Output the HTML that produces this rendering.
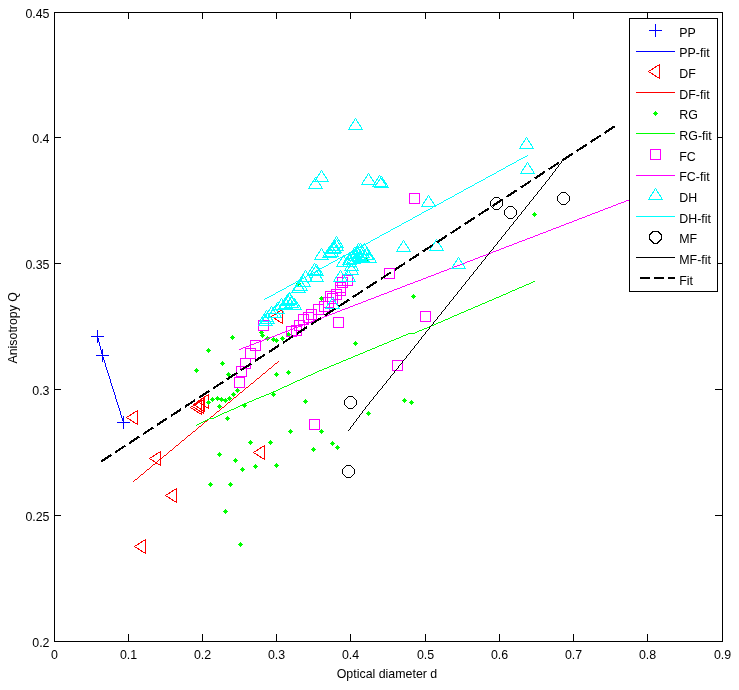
<!DOCTYPE html><html><head><meta charset="utf-8"><style>html,body{margin:0;padding:0;background:#fff}svg{display:block;will-change:transform}text{font-family:"Liberation Sans",sans-serif;font-size:12.4px;fill:#000}</style></head><body>
<svg width="739" height="690" viewBox="0 0 739 690" shape-rendering="crispEdges">
<rect width="739" height="690" fill="#fff"/>
<path d="M54.5 12.5H722.5V641.5H54.5Z" stroke="#000" fill="none"/>
<path d="M54.5 641.5V633.5M54.5 12.5V18.5M128.5 641.5V633.5M128.5 12.5V18.5M202.5 641.5V633.5M202.5 12.5V18.5M276.5 641.5V633.5M276.5 12.5V18.5M350.5 641.5V633.5M350.5 12.5V18.5M425.5 641.5V633.5M425.5 12.5V18.5M499.5 641.5V633.5M499.5 12.5V18.5M573.5 641.5V633.5M573.5 12.5V18.5M647.5 641.5V633.5M647.5 12.5V18.5M722.5 641.5V633.5M722.5 12.5V18.5M54.5 641.5H60.5M722.5 641.5H714.5M54.5 515.5H60.5M722.5 515.5H714.5M54.5 389.5H60.5M722.5 389.5H714.5M54.5 263.5H60.5M722.5 263.5H714.5M54.5 137.5H60.5M722.5 137.5H714.5M54.5 12.5H60.5M722.5 12.5H714.5" stroke="#000" fill="none"/>
<text x="54.5" y="659" text-anchor="middle">0</text>
<text x="128.5" y="659" text-anchor="middle">0.1</text>
<text x="202.5" y="659" text-anchor="middle">0.2</text>
<text x="276.5" y="659" text-anchor="middle">0.3</text>
<text x="350.5" y="659" text-anchor="middle">0.4</text>
<text x="425.5" y="659" text-anchor="middle">0.5</text>
<text x="499.5" y="659" text-anchor="middle">0.6</text>
<text x="573.5" y="659" text-anchor="middle">0.7</text>
<text x="647.5" y="659" text-anchor="middle">0.8</text>
<text x="722.5" y="659" text-anchor="middle">0.9</text>
<text x="49.5" y="646.5" text-anchor="end">0.2</text>
<text x="49.5" y="520.5" text-anchor="end">0.25</text>
<text x="49.5" y="394.5" text-anchor="end">0.3</text>
<text x="49.5" y="268.5" text-anchor="end">0.35</text>
<text x="49.5" y="142.5" text-anchor="end">0.4</text>
<text x="49.5" y="17.5" text-anchor="end">0.45</text>
<text x="387" y="678" text-anchor="middle">Optical diameter d</text>
<text transform="translate(17.4 327.8) rotate(-90)" text-anchor="middle">Anisotropy Q</text>
<g fill="none" stroke-width="1">
<path d="M90.90 336.50H103.90M97.40 330.00V343.00" stroke="#0000ff"/>
<path d="M96.00 355.30H109.00M102.50 348.80V361.80" stroke="#0000ff"/>
<path d="M116.80 422.60H129.80M123.30 416.10V429.10" stroke="#0000ff"/>
<path d="M97 336h1v1h-1zM97 337h1v1h-1zM98 338h1v1h-1zM98 339h1v1h-1zM98 340h1v1h-1zM98 341h1v1h-1zM99 342h1v1h-1zM99 343h1v1h-1zM99 344h1v1h-1zM99 345h1v1h-1zM100 346h1v1h-1zM100 347h1v1h-1zM100 348h1v1h-1zM100 349h1v1h-1zM101 350h1v1h-1zM101 351h1v1h-1zM101 352h1v1h-1zM101 353h1v1h-1zM102 354h1v1h-1zM102 355h1v1h-1zM102 356h1v1h-1zM103 357h1v1h-1zM103 358h1v1h-1zM103 359h1v1h-1zM104 360h1v1h-1zM104 361h1v1h-1zM104 362h1v1h-1zM105 363h1v1h-1zM105 364h1v1h-1zM105 365h1v1h-1zM105 366h1v1h-1zM106 367h1v1h-1zM106 368h1v1h-1zM106 369h1v1h-1zM107 370h1v1h-1zM107 371h1v1h-1zM107 372h1v1h-1zM108 373h1v1h-1zM108 374h1v1h-1zM108 375h1v1h-1zM109 376h1v1h-1zM109 377h1v1h-1zM109 378h1v1h-1zM110 379h1v1h-1zM110 380h1v1h-1zM110 381h1v1h-1zM110 382h1v1h-1zM111 383h1v1h-1zM111 384h1v1h-1zM111 385h1v1h-1zM112 386h1v1h-1zM112 387h1v1h-1zM112 388h1v1h-1zM113 389h1v1h-1zM113 390h1v1h-1zM113 391h1v1h-1zM114 392h1v1h-1zM114 393h1v1h-1zM114 394h1v1h-1zM115 395h1v1h-1zM115 396h1v1h-1zM115 397h1v1h-1zM115 398h1v1h-1zM116 399h1v1h-1zM116 400h1v1h-1zM116 401h1v1h-1zM117 402h1v1h-1zM117 403h1v1h-1zM117 404h1v1h-1zM118 405h1v1h-1zM118 406h1v1h-1zM118 407h1v1h-1zM119 408h1v1h-1zM119 409h1v1h-1zM119 410h1v1h-1zM120 411h1v1h-1zM120 412h1v1h-1zM120 413h1v1h-1zM120 414h1v1h-1zM121 415h1v1h-1zM121 416h1v1h-1zM121 417h1v1h-1zM122 418h1v1h-1zM122 419h1v1h-1zM122 420h1v1h-1zM123 421h1v1h-1zM123 422h1v1h-1z" fill="#0000ff" stroke="none"/>
<path d="M126.50 417.50L137.50 410.50V424.50Z" stroke="#ff0000"/>
<path d="M149.50 458.50L160.50 451.50V465.50Z" stroke="#ff0000"/>
<path d="M165.50 495.50L176.50 488.50V502.50Z" stroke="#ff0000"/>
<path d="M134.50 546.50L145.50 539.50V553.50Z" stroke="#ff0000"/>
<path d="M253.50 452.50L264.50 445.50V459.50Z" stroke="#ff0000"/>
<path d="M271.50 316.50L282.50 309.50V323.50Z" stroke="#ff0000"/>
<path d="M197.50 401.50L208.50 394.50V408.50Z" stroke="#ff0000"/>
<path d="M193.50 404.50L204.50 397.50V411.50Z" stroke="#ff0000"/>
<path d="M192.50 406.50L203.50 399.50V413.50Z" stroke="#ff0000"/>
<path d="M190.50 407.50L201.50 400.50V414.50Z" stroke="#ff0000"/>
<path d="M278 361h1v1h-1zM277 362h1v1h-1zM275 363h2v1h-2zM274 364h1v1h-1zM273 365h1v1h-1zM272 366h1v1h-1zM271 367h1v1h-1zM269 368h2v1h-2zM268 369h1v1h-1zM267 370h1v1h-1zM266 371h1v1h-1zM265 372h1v1h-1zM263 373h2v1h-2zM262 374h1v1h-1zM261 375h1v1h-1zM260 376h1v1h-1zM259 377h1v1h-1zM257 378h2v1h-2zM256 379h1v1h-1zM255 380h1v1h-1zM254 381h1v1h-1zM253 382h1v1h-1zM251 383h2v1h-2zM250 384h1v1h-1zM249 385h1v1h-1zM248 386h1v1h-1zM246 387h2v1h-2zM245 388h1v1h-1zM244 389h1v1h-1zM243 390h1v1h-1zM242 391h1v1h-1zM240 392h2v1h-2zM239 393h1v1h-1zM238 394h1v1h-1zM237 395h1v1h-1zM236 396h1v1h-1zM234 397h2v1h-2zM233 398h1v1h-1zM232 399h1v1h-1zM231 400h1v1h-1zM230 401h1v1h-1zM228 402h2v1h-2zM227 403h1v1h-1zM226 404h1v1h-1zM225 405h1v1h-1zM224 406h1v1h-1zM222 407h2v1h-2zM221 408h1v1h-1zM220 409h1v1h-1zM219 410h1v1h-1zM217 411h2v1h-2zM216 412h1v1h-1zM215 413h1v1h-1zM214 414h1v1h-1zM213 415h1v1h-1zM211 416h2v1h-2zM210 417h1v1h-1zM209 418h1v1h-1zM208 419h1v1h-1zM207 420h1v1h-1zM205 421h2v1h-2zM204 422h1v1h-1zM203 423h1v1h-1zM202 424h1v1h-1zM201 425h1v1h-1zM199 426h2v1h-2zM198 427h1v1h-1zM197 428h1v1h-1zM196 429h1v1h-1zM195 430h1v1h-1zM193 431h2v1h-2zM192 432h1v1h-1zM191 433h1v1h-1zM190 434h1v1h-1zM188 435h2v1h-2zM187 436h1v1h-1zM186 437h1v1h-1zM185 438h1v1h-1zM184 439h1v1h-1zM182 440h2v1h-2zM181 441h1v1h-1zM180 442h1v1h-1zM179 443h1v1h-1zM178 444h1v1h-1zM176 445h2v1h-2zM175 446h1v1h-1zM174 447h1v1h-1zM173 448h1v1h-1zM172 449h1v1h-1zM170 450h2v1h-2zM169 451h1v1h-1zM168 452h1v1h-1zM167 453h1v1h-1zM166 454h1v1h-1zM164 455h2v1h-2zM163 456h1v1h-1zM162 457h1v1h-1zM161 458h1v1h-1zM159 459h2v1h-2zM158 460h1v1h-1zM157 461h1v1h-1zM156 462h1v1h-1zM155 463h1v1h-1zM153 464h2v1h-2zM152 465h1v1h-1zM151 466h1v1h-1zM150 467h1v1h-1zM149 468h1v1h-1zM147 469h2v1h-2zM146 470h1v1h-1zM145 471h1v1h-1zM144 472h1v1h-1zM143 473h1v1h-1zM141 474h2v1h-2zM140 475h1v1h-1zM139 476h1v1h-1zM138 477h1v1h-1zM137 478h1v1h-1zM135 479h2v1h-2zM134 480h1v1h-1zM133 481h1v1h-1z" fill="#ff0000" stroke="none"/>
<path d="M208.50 399.90L211.10 402.50L208.50 405.10L205.90 402.50Z" fill="#00ff00" stroke="none"/>
<path d="M212.50 396.90L215.10 399.50L212.50 402.10L209.90 399.50Z" fill="#00ff00" stroke="none"/>
<path d="M217.50 395.90L220.10 398.50L217.50 401.10L214.90 398.50Z" fill="#00ff00" stroke="none"/>
<path d="M221.50 396.90L224.10 399.50L221.50 402.10L218.90 399.50Z" fill="#00ff00" stroke="none"/>
<path d="M225.50 397.90L228.10 400.50L225.50 403.10L222.90 400.50Z" fill="#00ff00" stroke="none"/>
<path d="M229.50 395.90L232.10 398.50L229.50 401.10L226.90 398.50Z" fill="#00ff00" stroke="none"/>
<path d="M233.50 391.90L236.10 394.50L233.50 397.10L230.90 394.50Z" fill="#00ff00" stroke="none"/>
<path d="M237.50 387.90L240.10 390.50L237.50 393.10L234.90 390.50Z" fill="#00ff00" stroke="none"/>
<path d="M219.50 403.90L222.10 406.50L219.50 409.10L216.90 406.50Z" fill="#00ff00" stroke="none"/>
<path d="M227.50 415.90L230.10 418.50L227.50 421.10L224.90 418.50Z" fill="#00ff00" stroke="none"/>
<path d="M232.50 334.90L235.10 337.50L232.50 340.10L229.90 337.50Z" fill="#00ff00" stroke="none"/>
<path d="M208.50 347.90L211.10 350.50L208.50 353.10L205.90 350.50Z" fill="#00ff00" stroke="none"/>
<path d="M222.50 360.90L225.10 363.50L222.50 366.10L219.90 363.50Z" fill="#00ff00" stroke="none"/>
<path d="M196.50 367.90L199.10 370.50L196.50 373.10L193.90 370.50Z" fill="#00ff00" stroke="none"/>
<path d="M228.50 371.90L231.10 374.50L228.50 377.10L225.90 374.50Z" fill="#00ff00" stroke="none"/>
<path d="M276.50 371.90L279.10 374.50L276.50 377.10L273.90 374.50Z" fill="#00ff00" stroke="none"/>
<path d="M273.50 391.90L276.10 394.50L273.50 397.10L270.90 394.50Z" fill="#00ff00" stroke="none"/>
<path d="M244.50 402.90L247.10 405.50L244.50 408.10L241.90 405.50Z" fill="#00ff00" stroke="none"/>
<path d="M262.50 332.90L265.10 335.50L262.50 338.10L259.90 335.50Z" fill="#00ff00" stroke="none"/>
<path d="M267.50 335.90L270.10 338.50L267.50 341.10L264.90 338.50Z" fill="#00ff00" stroke="none"/>
<path d="M273.50 336.90L276.10 339.50L273.50 342.10L270.90 339.50Z" fill="#00ff00" stroke="none"/>
<path d="M276.50 337.90L279.10 340.50L276.50 343.10L273.90 340.50Z" fill="#00ff00" stroke="none"/>
<path d="M282.50 335.90L285.10 338.50L282.50 341.10L279.90 338.50Z" fill="#00ff00" stroke="none"/>
<path d="M288.50 331.90L291.10 334.50L288.50 337.10L285.90 334.50Z" fill="#00ff00" stroke="none"/>
<path d="M261.50 329.90L264.10 332.50L261.50 335.10L258.90 332.50Z" fill="#00ff00" stroke="none"/>
<path d="M290.50 428.90L293.10 431.50L290.50 434.10L287.90 431.50Z" fill="#00ff00" stroke="none"/>
<path d="M250.50 439.90L253.10 442.50L250.50 445.10L247.90 442.50Z" fill="#00ff00" stroke="none"/>
<path d="M270.50 439.90L273.10 442.50L270.50 445.10L267.90 442.50Z" fill="#00ff00" stroke="none"/>
<path d="M219.50 451.90L222.10 454.50L219.50 457.10L216.90 454.50Z" fill="#00ff00" stroke="none"/>
<path d="M235.50 457.90L238.10 460.50L235.50 463.10L232.90 460.50Z" fill="#00ff00" stroke="none"/>
<path d="M242.50 466.90L245.10 469.50L242.50 472.10L239.90 469.50Z" fill="#00ff00" stroke="none"/>
<path d="M255.50 463.90L258.10 466.50L255.50 469.10L252.90 466.50Z" fill="#00ff00" stroke="none"/>
<path d="M276.50 462.90L279.10 465.50L276.50 468.10L273.90 465.50Z" fill="#00ff00" stroke="none"/>
<path d="M210.50 481.90L213.10 484.50L210.50 487.10L207.90 484.50Z" fill="#00ff00" stroke="none"/>
<path d="M230.50 481.90L233.10 484.50L230.50 487.10L227.90 484.50Z" fill="#00ff00" stroke="none"/>
<path d="M225.50 508.90L228.10 511.50L225.50 514.10L222.90 511.50Z" fill="#00ff00" stroke="none"/>
<path d="M240.50 541.90L243.10 544.50L240.50 547.10L237.90 544.50Z" fill="#00ff00" stroke="none"/>
<path d="M355.50 340.90L358.10 343.50L355.50 346.10L352.90 343.50Z" fill="#00ff00" stroke="none"/>
<path d="M288.50 369.90L291.10 372.50L288.50 375.10L285.90 372.50Z" fill="#00ff00" stroke="none"/>
<path d="M305.50 398.90L308.10 401.50L305.50 404.10L302.90 401.50Z" fill="#00ff00" stroke="none"/>
<path d="M368.50 410.90L371.10 413.50L368.50 416.10L365.90 413.50Z" fill="#00ff00" stroke="none"/>
<path d="M321.50 428.90L324.10 431.50L321.50 434.10L318.90 431.50Z" fill="#00ff00" stroke="none"/>
<path d="M332.50 440.90L335.10 443.50L332.50 446.10L329.90 443.50Z" fill="#00ff00" stroke="none"/>
<path d="M337.50 444.90L340.10 447.50L337.50 450.10L334.90 447.50Z" fill="#00ff00" stroke="none"/>
<path d="M313.50 446.90L316.10 449.50L313.50 452.10L310.90 449.50Z" fill="#00ff00" stroke="none"/>
<path d="M282.50 335.90L285.10 338.50L282.50 341.10L279.90 338.50Z" fill="#00ff00" stroke="none"/>
<path d="M413.50 293.90L416.10 296.50L413.50 299.10L410.90 296.50Z" fill="#00ff00" stroke="none"/>
<path d="M404.50 397.90L407.10 400.50L404.50 403.10L401.90 400.50Z" fill="#00ff00" stroke="none"/>
<path d="M411.50 399.90L414.10 402.50L411.50 405.10L408.90 402.50Z" fill="#00ff00" stroke="none"/>
<path d="M534.50 211.90L537.10 214.50L534.50 217.10L531.90 214.50Z" fill="#00ff00" stroke="none"/>
<path d="M321.50 295.90L324.10 298.50L321.50 301.10L318.90 298.50Z" fill="#00ff00" stroke="none"/>
<path d="M298.50 280.90L301.10 283.50L298.50 286.10L295.90 283.50Z" fill="#00ff00" stroke="none"/>
<path d="M366.50 257.90L369.10 260.50L366.50 263.10L363.90 260.50Z" fill="#00ff00" stroke="none"/>
<path d="M533 281h2v1h-2zM531 282h2v1h-2zM529 283h2v1h-2zM526 284h3v1h-3zM524 285h2v1h-2zM522 286h2v1h-2zM519 287h3v1h-3zM517 288h2v1h-2zM515 289h2v1h-2zM512 290h3v1h-3zM510 291h2v1h-2zM508 292h2v1h-2zM506 293h2v1h-2zM503 294h3v1h-3zM501 295h2v1h-2zM499 296h2v1h-2zM496 297h3v1h-3zM494 298h2v1h-2zM492 299h2v1h-2zM489 300h3v1h-3zM487 301h2v1h-2zM485 302h2v1h-2zM482 303h3v1h-3zM480 304h2v1h-2zM478 305h2v1h-2zM475 306h3v1h-3zM473 307h2v1h-2zM471 308h2v1h-2zM468 309h3v1h-3zM466 310h2v1h-2zM464 311h2v1h-2zM461 312h3v1h-3zM459 313h2v1h-2zM457 314h2v1h-2zM454 315h3v1h-3zM452 316h2v1h-2zM450 317h2v1h-2zM448 318h2v1h-2zM445 319h3v1h-3zM443 320h2v1h-2zM441 321h2v1h-2zM438 322h3v1h-3zM436 323h2v1h-2zM434 324h2v1h-2zM431 325h3v1h-3zM429 326h2v1h-2zM427 327h2v1h-2zM424 328h3v1h-3zM422 329h2v1h-2zM419 330h3v1h-3zM417 331h2v1h-2zM415 332h2v1h-2zM408 333h7v1h-7zM406 334h2v1h-2zM403 335h3v1h-3zM401 336h2v1h-2zM399 337h2v1h-2zM396 338h3v1h-3zM394 339h2v1h-2zM391 340h3v1h-3zM389 341h2v1h-2zM387 342h2v1h-2zM384 343h3v1h-3zM382 344h2v1h-2zM379 345h3v1h-3zM377 346h2v1h-2zM375 347h2v1h-2zM372 348h3v1h-3zM370 349h2v1h-2zM367 350h3v1h-3zM365 351h2v1h-2zM363 352h2v1h-2zM360 353h3v1h-3zM358 354h2v1h-2zM355 355h3v1h-3zM353 356h2v1h-2zM351 357h2v1h-2zM348 358h3v1h-3zM346 359h2v1h-2zM343 360h3v1h-3zM341 361h2v1h-2zM339 362h2v1h-2zM336 363h3v1h-3zM334 364h2v1h-2zM331 365h3v1h-3zM329 366h2v1h-2zM327 367h2v1h-2zM324 368h3v1h-3zM322 369h2v1h-2zM319 370h3v1h-3zM317 371h2v1h-2zM315 372h2v1h-2zM313 373h2v1h-2zM311 374h2v1h-2zM308 375h3v1h-3zM306 376h2v1h-2zM304 377h2v1h-2zM302 378h2v1h-2zM300 379h2v1h-2zM297 380h3v1h-3zM295 381h2v1h-2zM293 382h2v1h-2zM291 383h2v1h-2zM289 384h2v1h-2zM287 385h2v1h-2zM284 386h3v1h-3zM282 387h2v1h-2zM280 388h2v1h-2zM278 389h2v1h-2zM276 390h2v1h-2zM273 391h3v1h-3zM271 392h2v1h-2zM269 393h2v1h-2zM266 394h3v1h-3zM264 395h2v1h-2zM261 396h3v1h-3zM259 397h2v1h-2zM256 398h3v1h-3zM254 399h2v1h-2zM252 400h2v1h-2zM249 401h3v1h-3zM247 402h2v1h-2zM244 403h3v1h-3zM242 404h2v1h-2zM240 405h2v1h-2zM238 406h2v1h-2zM236 407h2v1h-2zM234 408h2v1h-2zM231 409h3v1h-3zM229 410h2v1h-2zM227 411h2v1h-2zM224 412h3v1h-3zM222 413h2v1h-2zM220 414h2v1h-2zM218 415h2v1h-2zM216 416h2v1h-2zM214 417h2v1h-2zM209 418h5v1h-5zM207 419h2v1h-2zM205 420h2v1h-2zM203 421h2v1h-2zM201 422h2v1h-2zM199 423h2v1h-2zM197 424h2v1h-2zM196 425h1v1h-1z" fill="#00ff00" stroke="none"/>
<rect x="234.50" y="377.50" width="10.00" height="10.00" stroke="#ff00ff"/>
<rect x="236.50" y="366.50" width="10.00" height="10.00" stroke="#ff00ff"/>
<rect x="240.50" y="358.50" width="10.00" height="10.00" stroke="#ff00ff"/>
<rect x="245.50" y="348.50" width="10.00" height="10.00" stroke="#ff00ff"/>
<rect x="250.50" y="340.50" width="10.00" height="10.00" stroke="#ff00ff"/>
<rect x="258.50" y="320.50" width="10.00" height="10.00" stroke="#ff00ff"/>
<rect x="309.50" y="419.50" width="10.00" height="10.00" stroke="#ff00ff"/>
<rect x="333.50" y="317.50" width="10.00" height="10.00" stroke="#ff00ff"/>
<rect x="392.50" y="360.50" width="10.00" height="10.00" stroke="#ff00ff"/>
<rect x="420.50" y="311.50" width="10.00" height="10.00" stroke="#ff00ff"/>
<rect x="409.50" y="193.50" width="10.00" height="10.00" stroke="#ff00ff"/>
<rect x="384.50" y="268.50" width="10.00" height="10.00" stroke="#ff00ff"/>
<rect x="298.50" y="314.50" width="10.00" height="10.00" stroke="#ff00ff"/>
<rect x="306.50" y="309.50" width="10.00" height="10.00" stroke="#ff00ff"/>
<rect x="313.50" y="304.50" width="10.00" height="10.00" stroke="#ff00ff"/>
<rect x="319.50" y="301.50" width="10.00" height="10.00" stroke="#ff00ff"/>
<rect x="325.50" y="291.50" width="10.00" height="10.00" stroke="#ff00ff"/>
<rect x="331.50" y="289.50" width="10.00" height="10.00" stroke="#ff00ff"/>
<rect x="335.50" y="282.50" width="10.00" height="10.00" stroke="#ff00ff"/>
<rect x="337.50" y="277.50" width="10.00" height="10.00" stroke="#ff00ff"/>
<rect x="342.50" y="275.50" width="10.00" height="10.00" stroke="#ff00ff"/>
<rect x="294.50" y="320.50" width="10.00" height="10.00" stroke="#ff00ff"/>
<rect x="291.50" y="325.50" width="10.00" height="10.00" stroke="#ff00ff"/>
<rect x="286.50" y="326.50" width="10.00" height="10.00" stroke="#ff00ff"/>
<rect x="335.50" y="285.50" width="10.00" height="10.00" stroke="#ff00ff"/>
<rect x="327.50" y="293.50" width="10.00" height="10.00" stroke="#ff00ff"/>
<rect x="323.50" y="297.50" width="10.00" height="10.00" stroke="#ff00ff"/>
<rect x="303.50" y="312.50" width="10.00" height="10.00" stroke="#ff00ff"/>
<rect x="298.50" y="314.50" width="10.00" height="10.00" stroke="#ff00ff"/>
<path d="M699 172h2v1h-2zM697 173h2v1h-2zM694 174h3v1h-3zM691 175h3v1h-3zM689 176h2v1h-2zM686 177h3v1h-3zM684 178h2v1h-2zM681 179h3v1h-3zM678 180h3v1h-3zM676 181h2v1h-2zM673 182h3v1h-3zM671 183h2v1h-2zM668 184h3v1h-3zM665 185h3v1h-3zM663 186h2v1h-2zM660 187h3v1h-3zM658 188h2v1h-2zM655 189h3v1h-3zM652 190h3v1h-3zM650 191h2v1h-2zM647 192h3v1h-3zM645 193h2v1h-2zM642 194h3v1h-3zM639 195h3v1h-3zM637 196h2v1h-2zM634 197h3v1h-3zM631 198h3v1h-3zM629 199h2v1h-2zM626 200h3v1h-3zM624 201h2v1h-2zM621 202h3v1h-3zM618 203h3v1h-3zM616 204h2v1h-2zM613 205h3v1h-3zM611 206h2v1h-2zM608 207h3v1h-3zM605 208h3v1h-3zM603 209h2v1h-2zM600 210h3v1h-3zM598 211h2v1h-2zM595 212h3v1h-3zM592 213h3v1h-3zM590 214h2v1h-2zM587 215h3v1h-3zM585 216h2v1h-2zM582 217h3v1h-3zM579 218h3v1h-3zM577 219h2v1h-2zM574 220h3v1h-3zM572 221h2v1h-2zM569 222h3v1h-3zM566 223h3v1h-3zM564 224h2v1h-2zM561 225h3v1h-3zM559 226h2v1h-2zM556 227h3v1h-3zM553 228h3v1h-3zM551 229h2v1h-2zM548 230h3v1h-3zM546 231h2v1h-2zM543 232h3v1h-3zM540 233h3v1h-3zM538 234h2v1h-2zM535 235h3v1h-3zM533 236h2v1h-2zM530 237h3v1h-3zM527 238h3v1h-3zM525 239h2v1h-2zM522 240h3v1h-3zM519 241h3v1h-3zM517 242h2v1h-2zM514 243h3v1h-3zM512 244h2v1h-2zM509 245h3v1h-3zM506 246h3v1h-3zM504 247h2v1h-2zM501 248h3v1h-3zM499 249h2v1h-2zM496 250h3v1h-3zM493 251h3v1h-3zM491 252h2v1h-2zM488 253h3v1h-3zM486 254h2v1h-2zM483 255h3v1h-3zM480 256h3v1h-3zM478 257h2v1h-2zM475 258h3v1h-3zM473 259h2v1h-2zM470 260h3v1h-3zM467 261h3v1h-3zM465 262h2v1h-2zM462 263h3v1h-3zM460 264h2v1h-2zM457 265h3v1h-3zM454 266h3v1h-3zM452 267h2v1h-2zM449 268h3v1h-3zM447 269h2v1h-2zM444 270h3v1h-3zM441 271h3v1h-3zM439 272h2v1h-2zM436 273h3v1h-3zM434 274h2v1h-2zM431 275h3v1h-3zM428 276h3v1h-3zM426 277h2v1h-2zM423 278h3v1h-3zM421 279h2v1h-2zM418 280h3v1h-3zM415 281h3v1h-3zM413 282h2v1h-2zM410 283h3v1h-3zM407 284h3v1h-3zM405 285h2v1h-2zM402 286h3v1h-3zM400 287h2v1h-2zM397 288h3v1h-3zM394 289h3v1h-3zM392 290h2v1h-2zM389 291h3v1h-3zM387 292h2v1h-2zM384 293h3v1h-3zM381 294h3v1h-3zM379 295h2v1h-2zM376 296h3v1h-3zM374 297h2v1h-2zM371 298h3v1h-3zM368 299h3v1h-3zM366 300h2v1h-2zM363 301h3v1h-3zM361 302h2v1h-2zM358 303h3v1h-3zM355 304h3v1h-3zM353 305h2v1h-2zM350 306h3v1h-3zM348 307h2v1h-2zM345 308h3v1h-3zM342 309h3v1h-3zM340 310h2v1h-2zM337 311h3v1h-3zM335 312h2v1h-2zM332 313h3v1h-3zM329 314h3v1h-3zM327 315h2v1h-2zM324 316h3v1h-3zM322 317h2v1h-2zM319 318h3v1h-3zM316 319h3v1h-3zM314 320h2v1h-2zM311 321h3v1h-3zM309 322h2v1h-2zM306 323h3v1h-3zM303 324h3v1h-3zM301 325h2v1h-2zM298 326h3v1h-3zM295 327h3v1h-3zM293 328h2v1h-2zM290 329h3v1h-3zM288 330h2v1h-2zM285 331h3v1h-3zM282 332h3v1h-3zM280 333h2v1h-2zM277 334h3v1h-3zM275 335h2v1h-2zM272 336h3v1h-3zM269 337h3v1h-3zM267 338h2v1h-2zM264 339h3v1h-3zM262 340h2v1h-2zM259 341h3v1h-3zM256 342h3v1h-3zM254 343h2v1h-2zM251 344h3v1h-3zM249 345h2v1h-2zM246 346h3v1h-3zM243 347h3v1h-3zM241 348h2v1h-2zM239 349h2v1h-2z" fill="#ff00ff" stroke="none"/>
<path d="M355.50 118.50L362.50 129.50H348.50Z" stroke="#00ffff"/>
<path d="M321.50 170.50L328.50 181.50H314.50Z" stroke="#00ffff"/>
<path d="M315.50 177.50L322.50 188.50H308.50Z" stroke="#00ffff"/>
<path d="M368.50 173.50L375.50 184.50H361.50Z" stroke="#00ffff"/>
<path d="M379.50 175.50L386.50 186.50H372.50Z" stroke="#00ffff"/>
<path d="M381.50 176.50L388.50 187.50H374.50Z" stroke="#00ffff"/>
<path d="M428.50 195.50L435.50 206.50H421.50Z" stroke="#00ffff"/>
<path d="M403.50 240.50L410.50 251.50H396.50Z" stroke="#00ffff"/>
<path d="M436.50 239.50L443.50 250.50H429.50Z" stroke="#00ffff"/>
<path d="M458.50 257.50L465.50 268.50H451.50Z" stroke="#00ffff"/>
<path d="M526.50 137.50L533.50 148.50H519.50Z" stroke="#00ffff"/>
<path d="M527.50 162.50L534.50 173.50H520.50Z" stroke="#00ffff"/>
<path d="M332.50 297.50L339.50 308.50H325.50Z" stroke="#00ffff"/>
<path d="M336.50 236.50L343.50 247.50H329.50Z" stroke="#00ffff"/>
<path d="M336.50 239.50L343.50 250.50H329.50Z" stroke="#00ffff"/>
<path d="M334.50 241.50L341.50 252.50H327.50Z" stroke="#00ffff"/>
<path d="M333.50 242.50L340.50 253.50H326.50Z" stroke="#00ffff"/>
<path d="M331.50 245.50L338.50 256.50H324.50Z" stroke="#00ffff"/>
<path d="M329.50 246.50L336.50 257.50H322.50Z" stroke="#00ffff"/>
<path d="M321.50 248.50L328.50 259.50H314.50Z" stroke="#00ffff"/>
<path d="M358.50 243.50L365.50 254.50H351.50Z" stroke="#00ffff"/>
<path d="M360.50 243.50L367.50 254.50H353.50Z" stroke="#00ffff"/>
<path d="M364.50 243.50L371.50 254.50H357.50Z" stroke="#00ffff"/>
<path d="M357.50 246.50L364.50 257.50H350.50Z" stroke="#00ffff"/>
<path d="M362.50 246.50L369.50 257.50H355.50Z" stroke="#00ffff"/>
<path d="M355.50 249.50L362.50 260.50H348.50Z" stroke="#00ffff"/>
<path d="M366.50 248.50L373.50 259.50H359.50Z" stroke="#00ffff"/>
<path d="M369.50 251.50L376.50 262.50H362.50Z" stroke="#00ffff"/>
<path d="M354.50 247.50L361.50 258.50H347.50Z" stroke="#00ffff"/>
<path d="M358.50 249.50L365.50 260.50H351.50Z" stroke="#00ffff"/>
<path d="M362.50 250.50L369.50 261.50H355.50Z" stroke="#00ffff"/>
<path d="M360.50 251.50L367.50 262.50H353.50Z" stroke="#00ffff"/>
<path d="M349.50 253.50L356.50 264.50H342.50Z" stroke="#00ffff"/>
<path d="M353.50 252.50L360.50 263.50H346.50Z" stroke="#00ffff"/>
<path d="M343.50 255.50L350.50 266.50H336.50Z" stroke="#00ffff"/>
<path d="M349.50 255.50L356.50 266.50H342.50Z" stroke="#00ffff"/>
<path d="M351.50 259.50L358.50 270.50H344.50Z" stroke="#00ffff"/>
<path d="M351.50 263.50L358.50 274.50H344.50Z" stroke="#00ffff"/>
<path d="M340.50 270.50L347.50 281.50H333.50Z" stroke="#00ffff"/>
<path d="M348.50 270.50L355.50 281.50H341.50Z" stroke="#00ffff"/>
<path d="M314.50 263.50L321.50 274.50H307.50Z" stroke="#00ffff"/>
<path d="M316.50 264.50L323.50 275.50H309.50Z" stroke="#00ffff"/>
<path d="M316.50 270.50L323.50 281.50H309.50Z" stroke="#00ffff"/>
<path d="M305.50 270.50L312.50 281.50H298.50Z" stroke="#00ffff"/>
<path d="M303.50 275.50L310.50 286.50H296.50Z" stroke="#00ffff"/>
<path d="M300.50 279.50L307.50 290.50H293.50Z" stroke="#00ffff"/>
<path d="M298.50 281.50L305.50 292.50H291.50Z" stroke="#00ffff"/>
<path d="M289.50 292.50L296.50 303.50H282.50Z" stroke="#00ffff"/>
<path d="M289.50 293.50L296.50 304.50H282.50Z" stroke="#00ffff"/>
<path d="M291.50 296.50L298.50 307.50H284.50Z" stroke="#00ffff"/>
<path d="M294.50 298.50L301.50 309.50H287.50Z" stroke="#00ffff"/>
<path d="M287.50 294.50L294.50 305.50H280.50Z" stroke="#00ffff"/>
<path d="M285.50 297.50L292.50 308.50H278.50Z" stroke="#00ffff"/>
<path d="M281.50 298.50L288.50 309.50H274.50Z" stroke="#00ffff"/>
<path d="M277.50 302.50L284.50 313.50H270.50Z" stroke="#00ffff"/>
<path d="M274.50 306.50L281.50 317.50H267.50Z" stroke="#00ffff"/>
<path d="M266.50 310.50L273.50 321.50H259.50Z" stroke="#00ffff"/>
<path d="M267.50 312.50L274.50 323.50H260.50Z" stroke="#00ffff"/>
<path d="M265.50 314.50L272.50 325.50H258.50Z" stroke="#00ffff"/>
<path d="M271.50 306.50L278.50 317.50H264.50Z" stroke="#00ffff"/>
<path d="M527 155h1v1h-1zM525 156h2v1h-2zM523 157h2v1h-2zM521 158h2v1h-2zM519 159h2v1h-2zM517 160h2v1h-2zM516 161h1v1h-1zM514 162h2v1h-2zM512 163h2v1h-2zM510 164h2v1h-2zM508 165h2v1h-2zM506 166h2v1h-2zM505 167h1v1h-1zM503 168h2v1h-2zM501 169h2v1h-2zM499 170h2v1h-2zM497 171h2v1h-2zM496 172h1v1h-1zM494 173h2v1h-2zM492 174h2v1h-2zM490 175h2v1h-2zM488 176h2v1h-2zM486 177h2v1h-2zM485 178h1v1h-1zM483 179h2v1h-2zM481 180h2v1h-2zM479 181h2v1h-2zM477 182h2v1h-2zM475 183h2v1h-2zM474 184h1v1h-1zM472 185h2v1h-2zM470 186h2v1h-2zM468 187h2v1h-2zM466 188h2v1h-2zM464 189h2v1h-2zM463 190h1v1h-1zM461 191h2v1h-2zM459 192h2v1h-2zM457 193h2v1h-2zM455 194h2v1h-2zM454 195h1v1h-1zM452 196h2v1h-2zM450 197h2v1h-2zM448 198h2v1h-2zM446 199h2v1h-2zM444 200h2v1h-2zM443 201h1v1h-1zM441 202h2v1h-2zM439 203h2v1h-2zM437 204h2v1h-2zM435 205h2v1h-2zM433 206h2v1h-2zM432 207h1v1h-1zM430 208h2v1h-2zM428 209h2v1h-2zM426 210h2v1h-2zM424 211h2v1h-2zM422 212h2v1h-2zM421 213h1v1h-1zM419 214h2v1h-2zM417 215h2v1h-2zM415 216h2v1h-2zM413 217h2v1h-2zM412 218h1v1h-1zM410 219h2v1h-2zM408 220h2v1h-2zM406 221h2v1h-2zM404 222h2v1h-2zM402 223h2v1h-2zM401 224h1v1h-1zM399 225h2v1h-2zM397 226h2v1h-2zM395 227h2v1h-2zM393 228h2v1h-2zM391 229h2v1h-2zM390 230h1v1h-1zM388 231h2v1h-2zM386 232h2v1h-2zM384 233h2v1h-2zM382 234h2v1h-2zM380 235h2v1h-2zM379 236h1v1h-1zM377 237h2v1h-2zM375 238h2v1h-2zM373 239h2v1h-2zM371 240h2v1h-2zM370 241h1v1h-1zM368 242h2v1h-2zM366 243h2v1h-2zM364 244h2v1h-2zM362 245h2v1h-2zM360 246h2v1h-2zM359 247h1v1h-1zM357 248h2v1h-2zM355 249h2v1h-2zM353 250h2v1h-2zM351 251h2v1h-2zM349 252h2v1h-2zM348 253h1v1h-1zM346 254h2v1h-2zM344 255h2v1h-2zM342 256h2v1h-2zM340 257h2v1h-2zM338 258h2v1h-2zM337 259h1v1h-1zM335 260h2v1h-2zM333 261h2v1h-2zM331 262h2v1h-2zM329 263h2v1h-2zM328 264h1v1h-1zM326 265h2v1h-2zM324 266h2v1h-2zM322 267h2v1h-2zM320 268h2v1h-2zM318 269h2v1h-2zM317 270h1v1h-1zM315 271h2v1h-2zM313 272h2v1h-2zM311 273h2v1h-2zM309 274h2v1h-2zM307 275h2v1h-2zM306 276h1v1h-1zM304 277h2v1h-2zM302 278h2v1h-2zM300 279h2v1h-2zM298 280h2v1h-2zM296 281h2v1h-2zM295 282h1v1h-1zM293 283h2v1h-2zM291 284h2v1h-2zM289 285h2v1h-2zM287 286h2v1h-2zM286 287h1v1h-1zM284 288h2v1h-2zM282 289h2v1h-2zM280 290h2v1h-2zM278 291h2v1h-2zM276 292h2v1h-2zM275 293h1v1h-1zM273 294h2v1h-2zM271 295h2v1h-2zM269 296h2v1h-2zM267 297h2v1h-2zM265 298h2v1h-2zM264 299h1v1h-1z" fill="#00ffff" stroke="none"/>
<polygon points="348.50,396.50 352.50,396.50 356.50,400.50 356.50,404.50 352.50,408.50 348.50,408.50 344.50,404.50 344.50,400.50" stroke="#000000"/>
<polygon points="346.50,465.50 350.50,465.50 354.50,469.50 354.50,473.50 350.50,477.50 346.50,477.50 342.50,473.50 342.50,469.50" stroke="#000000"/>
<polygon points="494.50,197.50 498.50,197.50 502.50,201.50 502.50,205.50 498.50,209.50 494.50,209.50 490.50,205.50 490.50,201.50" stroke="#000000"/>
<polygon points="508.50,206.50 512.50,206.50 516.50,210.50 516.50,214.50 512.50,218.50 508.50,218.50 504.50,214.50 504.50,210.50" stroke="#000000"/>
<polygon points="561.50,192.50 565.50,192.50 569.50,196.50 569.50,200.50 565.50,204.50 561.50,204.50 557.50,200.50 557.50,196.50" stroke="#000000"/>
<path d="M562 160h1v1h-1zM561 161h1v1h-1zM561 162h1v1h-1zM560 163h1v1h-1zM559 164h1v1h-1zM558 165h1v1h-1zM558 166h1v1h-1zM557 167h1v1h-1zM556 168h1v1h-1zM555 169h1v1h-1zM555 170h1v1h-1zM554 171h1v1h-1zM553 172h1v1h-1zM552 173h1v1h-1zM552 174h1v1h-1zM551 175h1v1h-1zM550 176h1v1h-1zM549 177h1v1h-1zM549 178h1v1h-1zM548 179h1v1h-1zM547 180h1v1h-1zM546 181h1v1h-1zM545 182h1v1h-1zM545 183h1v1h-1zM544 184h1v1h-1zM543 185h1v1h-1zM542 186h1v1h-1zM541 187h1v1h-1zM541 188h1v1h-1zM540 189h1v1h-1zM539 190h1v1h-1zM538 191h1v1h-1zM537 192h1v1h-1zM537 193h1v1h-1zM536 194h1v1h-1zM535 195h1v1h-1zM534 196h1v1h-1zM533 197h1v1h-1zM533 198h1v1h-1zM532 199h1v1h-1zM531 200h1v1h-1zM530 201h1v1h-1zM529 202h1v1h-1zM529 203h1v1h-1zM528 204h1v1h-1zM527 205h1v1h-1zM526 206h1v1h-1zM525 207h1v1h-1zM525 208h1v1h-1zM524 209h1v1h-1zM523 210h1v1h-1zM522 211h1v1h-1zM521 212h1v1h-1zM521 213h1v1h-1zM520 214h1v1h-1zM519 215h1v1h-1zM518 216h1v1h-1zM517 217h1v1h-1zM517 218h1v1h-1zM516 219h1v1h-1zM515 220h1v1h-1zM514 221h1v1h-1zM513 222h1v1h-1zM513 223h1v1h-1zM512 224h1v1h-1zM511 225h1v1h-1zM510 226h1v1h-1zM509 227h1v1h-1zM509 228h1v1h-1zM508 229h1v1h-1zM507 230h1v1h-1zM506 231h1v1h-1zM505 232h1v1h-1zM505 233h1v1h-1zM504 234h1v1h-1zM503 235h1v1h-1zM502 236h1v1h-1zM501 237h1v1h-1zM501 238h1v1h-1zM500 239h1v1h-1zM499 240h1v1h-1zM498 241h1v1h-1zM497 242h1v1h-1zM497 243h1v1h-1zM496 244h1v1h-1zM495 245h1v1h-1zM494 246h1v1h-1zM493 247h1v1h-1zM493 248h1v1h-1zM492 249h1v1h-1zM491 250h1v1h-1zM490 251h1v1h-1zM489 252h1v1h-1zM489 253h1v1h-1zM488 254h1v1h-1zM487 255h1v1h-1zM486 256h1v1h-1zM485 257h1v1h-1zM485 258h1v1h-1zM484 259h1v1h-1zM483 260h1v1h-1zM482 261h1v1h-1zM481 262h1v1h-1zM481 263h1v1h-1zM480 264h1v1h-1zM479 265h1v1h-1zM478 266h1v1h-1zM477 267h1v1h-1zM477 268h1v1h-1zM476 269h1v1h-1zM475 270h1v1h-1zM474 271h1v1h-1zM473 272h1v1h-1zM473 273h1v1h-1zM472 274h1v1h-1zM471 275h1v1h-1zM470 276h1v1h-1zM469 277h1v1h-1zM469 278h1v1h-1zM468 279h1v1h-1zM467 280h1v1h-1zM466 281h1v1h-1zM465 282h1v1h-1zM465 283h1v1h-1zM464 284h1v1h-1zM463 285h1v1h-1zM462 286h1v1h-1zM461 287h1v1h-1zM461 288h1v1h-1zM460 289h1v1h-1zM459 290h1v1h-1zM458 291h1v1h-1zM457 292h1v1h-1zM457 293h1v1h-1zM456 294h1v1h-1zM455 295h1v1h-1zM454 296h1v1h-1zM453 297h1v1h-1zM453 298h1v1h-1zM452 299h1v1h-1zM451 300h1v1h-1zM450 301h1v1h-1zM449 302h1v1h-1zM449 303h1v1h-1zM448 304h1v1h-1zM447 305h1v1h-1zM446 306h1v1h-1zM445 307h1v1h-1zM445 308h1v1h-1zM444 309h1v1h-1zM443 310h1v1h-1zM442 311h1v1h-1zM441 312h1v1h-1zM441 313h1v1h-1zM440 314h1v1h-1zM439 315h1v1h-1zM438 316h1v1h-1zM437 317h1v1h-1zM437 318h1v1h-1zM436 319h1v1h-1zM435 320h1v1h-1zM434 321h1v1h-1zM433 322h1v1h-1zM433 323h1v1h-1zM432 324h1v1h-1zM431 325h1v1h-1zM430 326h1v1h-1zM429 327h1v1h-1zM429 328h1v1h-1zM428 329h1v1h-1zM427 330h1v1h-1zM426 331h1v1h-1zM425 332h1v1h-1zM425 333h1v1h-1zM424 334h1v1h-1zM423 335h1v1h-1zM422 336h1v1h-1zM421 337h1v1h-1zM421 338h1v1h-1zM420 339h1v1h-1zM419 340h1v1h-1zM418 341h1v1h-1zM418 342h1v1h-1zM417 343h1v1h-1zM416 344h1v1h-1zM415 345h1v1h-1zM414 346h1v1h-1zM414 347h1v1h-1zM413 348h1v1h-1zM412 349h1v1h-1zM411 350h1v1h-1zM410 351h1v1h-1zM410 352h1v1h-1zM409 353h1v1h-1zM408 354h1v1h-1zM407 355h1v1h-1zM406 356h1v1h-1zM406 357h1v1h-1zM405 358h1v1h-1zM404 359h1v1h-1zM403 360h1v1h-1zM402 361h1v1h-1zM402 362h1v1h-1zM401 363h1v1h-1zM400 364h1v1h-1zM399 365h1v1h-1zM398 366h1v1h-1zM398 367h1v1h-1zM397 368h1v1h-1zM396 369h1v1h-1zM395 370h1v1h-1zM394 371h1v1h-1zM394 372h1v1h-1zM393 373h1v1h-1zM392 374h1v1h-1zM391 375h1v1h-1zM390 376h1v1h-1zM390 377h1v1h-1zM389 378h1v1h-1zM388 379h1v1h-1zM387 380h1v1h-1zM386 381h1v1h-1zM386 382h1v1h-1zM385 383h1v1h-1zM384 384h1v1h-1zM383 385h1v1h-1zM382 386h1v1h-1zM382 387h1v1h-1zM381 388h1v1h-1zM380 389h1v1h-1zM379 390h1v1h-1zM378 391h1v1h-1zM377 392h1v1h-1zM377 393h1v1h-1zM376 394h1v1h-1zM375 395h1v1h-1zM374 396h1v1h-1zM373 397h1v1h-1zM373 398h1v1h-1zM372 399h1v1h-1zM371 400h1v1h-1zM370 401h1v1h-1zM369 402h1v1h-1zM369 403h1v1h-1zM368 404h1v1h-1zM367 405h1v1h-1zM366 406h1v1h-1zM365 407h1v1h-1zM365 408h1v1h-1zM364 409h1v1h-1zM363 410h1v1h-1zM362 411h1v1h-1zM362 412h1v1h-1zM361 413h1v1h-1zM360 414h1v1h-1zM359 415h1v1h-1zM359 416h1v1h-1zM358 417h1v1h-1zM357 418h1v1h-1zM356 419h1v1h-1zM356 420h1v1h-1zM355 421h1v1h-1zM354 422h1v1h-1zM353 423h1v1h-1zM353 424h1v1h-1zM352 425h1v1h-1zM351 426h1v1h-1zM350 427h1v1h-1zM350 428h1v1h-1zM349 429h1v1h-1zM348 430h1v1h-1z" fill="#000000" stroke="none"/>
<path d="M101.10 461.50 L614.50 126.40" stroke="#000000" stroke-width="2.1" stroke-dasharray="12.2 4.5"/>
</g>
<g fill="none">
<rect x="629.5" y="18.5" width="88" height="273" fill="#fff" stroke="#000"/>
<text x="679.3" y="36.80">PP</text>
<text x="679.3" y="57.45">PP-fit</text>
<text x="679.3" y="78.10">DF</text>
<text x="679.3" y="98.75">DF-fit</text>
<text x="679.3" y="119.40">RG</text>
<text x="679.3" y="140.05">RG-fit</text>
<text x="679.3" y="160.70">FC</text>
<text x="679.3" y="181.35">FC-fit</text>
<text x="679.3" y="202.00">DH</text>
<text x="679.3" y="222.65">DH-fit</text>
<text x="679.3" y="243.30">MF</text>
<text x="679.3" y="263.95">MF-fit</text>
<text x="679.3" y="284.60">Fit</text>
<path d="M649.00 30.50H662.00M655.50 24.00V37.00" stroke="#0000ff"/>
<path d="M636.00 51.15 L675.00 51.15" stroke="#0000ff" stroke-width="1" />
<path d="M648.50 71.50L659.50 64.50V78.50Z" stroke="#ff0000"/>
<path d="M636.00 92.45 L675.00 92.45" stroke="#ff0000" stroke-width="1" />
<path d="M655.50 110.90L658.10 113.50L655.50 116.10L652.90 113.50Z" fill="#00ff00" stroke="none"/>
<path d="M636.00 133.75 L675.00 133.75" stroke="#00ff00" stroke-width="1" />
<rect x="650.50" y="149.50" width="10.00" height="10.00" stroke="#ff00ff"/>
<path d="M636.00 175.05 L675.00 175.05" stroke="#ff00ff" stroke-width="1" />
<path d="M655.50 188.50L662.50 199.50H648.50Z" stroke="#00ffff"/>
<path d="M636.00 216.35 L675.00 216.35" stroke="#00ffff" stroke-width="1" />
<polygon points="653.50,231.00 657.50,231.00 661.50,235.00 661.50,239.00 657.50,243.00 653.50,243.00 649.50,239.00 649.50,235.00" stroke="#000000"/>
<path d="M636.00 257.65 L675.00 257.65" stroke="#000000" stroke-width="1" />
<path d="M640.00 278.30 L675.00 278.30" stroke="#000000" stroke-width="2" stroke-dasharray="10 4"/>
</g>
</svg></body></html>
